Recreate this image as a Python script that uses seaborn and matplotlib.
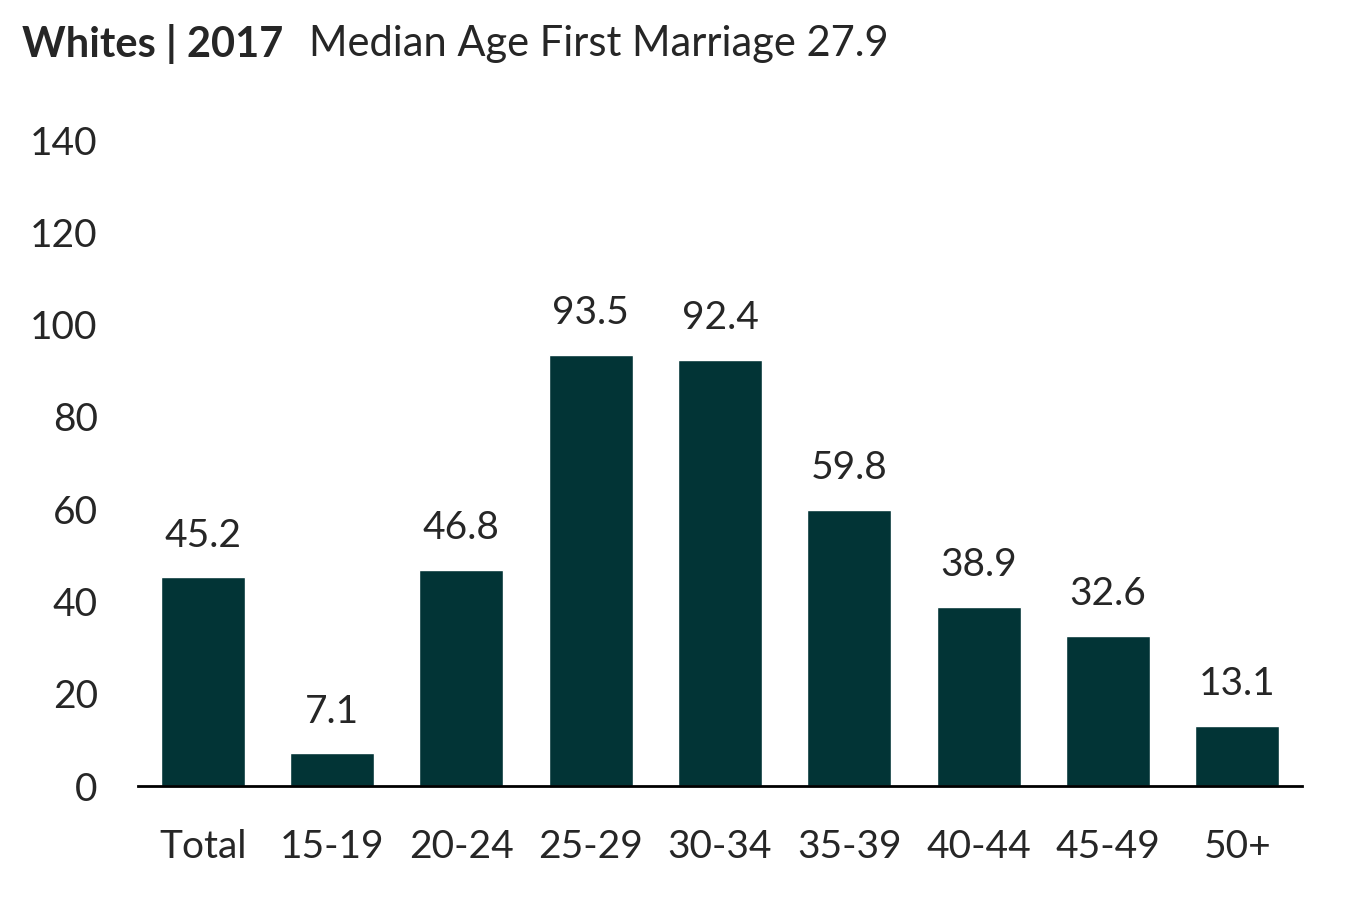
import matplotlib
matplotlib.use("Agg")
import matplotlib.pyplot as plt
import seaborn as sns
import pandas as pd

categories = ["Total", "15-19", "20-24", "25-29", "30-34", "35-39", "40-44", "45-49", "50+"]
rates = [45.2, 7.1, 46.8, 93.5, 92.4, 59.8, 38.9, 32.6, 13.1]
y_ticks = [0, 20, 40, 60, 80, 100, 120, 140]

sns.set_style("white")
plt.rcParams["font.family"] = ["Lato", "DejaVu Sans"]

df = pd.DataFrame({"group": categories, "rate": rates})

fig = plt.figure(figsize=(13.47, 8.97), dpi=100)
ax = fig.add_axes([0.1025, 0.1237, 0.8641, 0.7202])
sns.barplot(data=df, x="group", y="rate", color="#023436", width=0.65,
            saturation=1, ax=ax)

ax.set_xlim(-0.5, len(categories) - 0.5)
ax.set_ylim(0, 140)
ax.set_yticks(y_ticks)
ax.set_yticklabels([str(t) for t in y_ticks], fontsize=28)
ax.tick_params(axis="y", length=0, pad=29)
ax.tick_params(axis="x", length=0, pad=31, labelsize=28)
ax.set_xlabel("")
ax.set_ylabel("")
for s in ["top", "right", "left"]:
    ax.spines[s].set_visible(False)
ax.spines["bottom"].set_color("black")
ax.spines["bottom"].set_linewidth(2)

for i, v in enumerate(rates):
    ax.annotate(f"{v:.1f}", (i, v), xytext=(0, 17), textcoords="offset points",
                ha="center", va="bottom", fontsize=28)

# title in two parts: bold lead, regular rest
t1 = fig.text(22 / 1347, 1 - 44 / 897, "Whites | 2017", fontsize=30,
              fontweight="bold", ha="left", va="center")
fig.canvas.draw()
bb = t1.get_window_extent()
fig.text((bb.x1 + 26) / 1347, 1 - 44 / 897, "Median Age First Marriage 27.9",
         fontsize=30, ha="left", va="center")

fig.savefig("out.png", dpi=100)
